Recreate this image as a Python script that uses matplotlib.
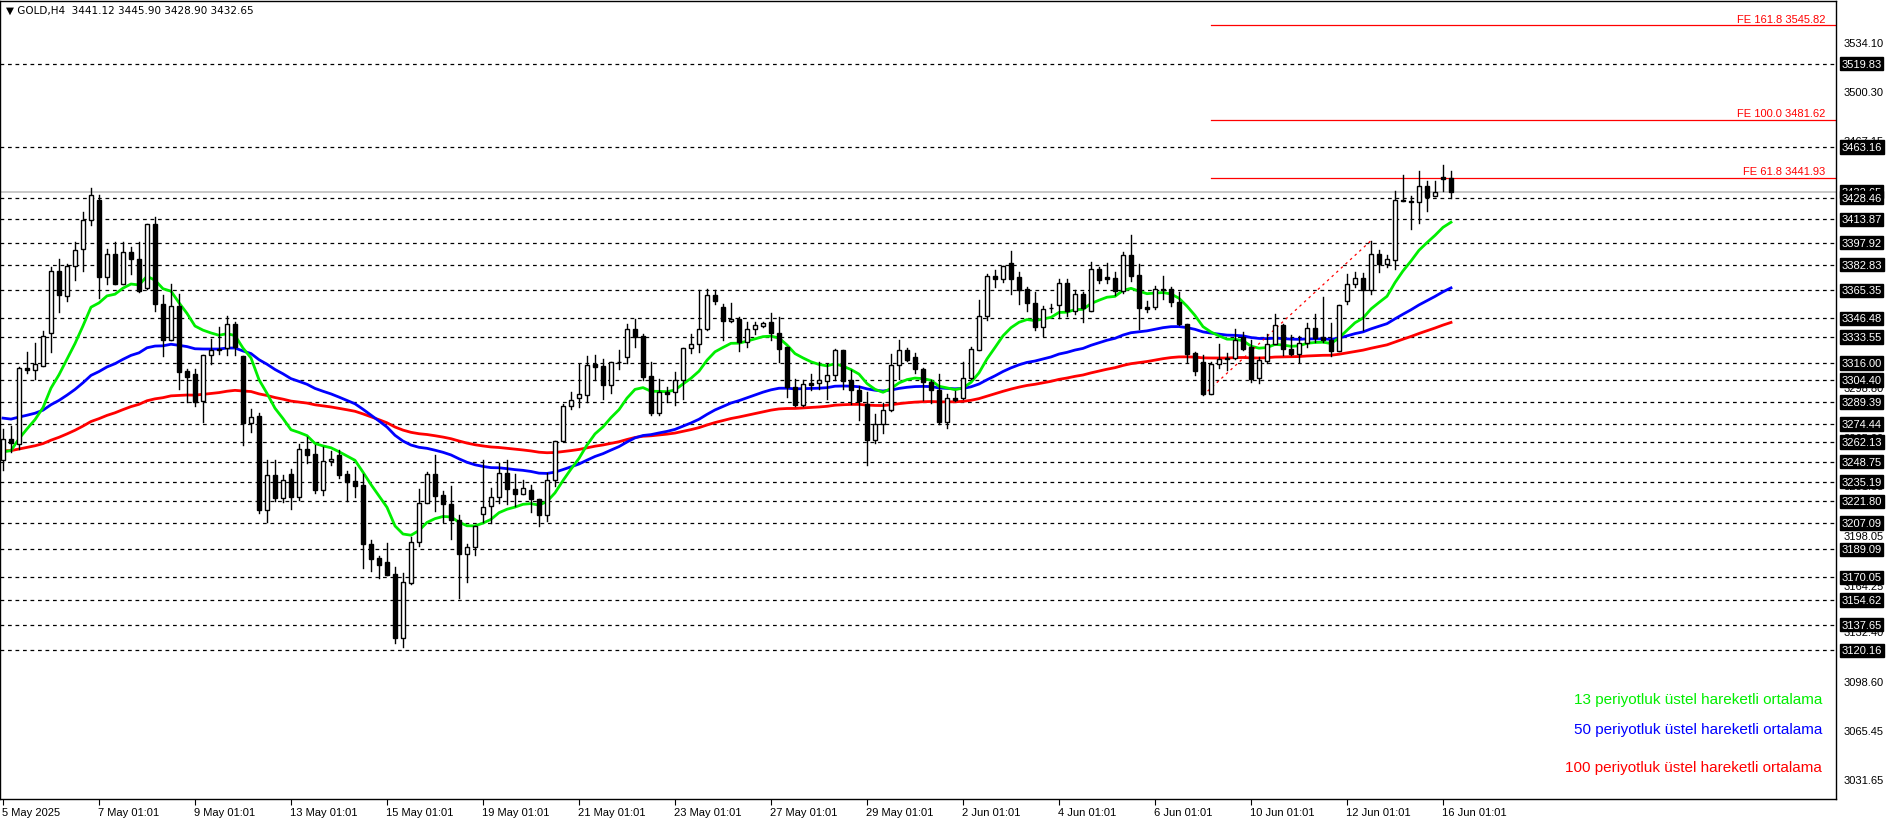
import numpy as np
import matplotlib
matplotlib.use("Agg")
import matplotlib.pyplot as plt
import matplotlib.transforms as mtransforms

# ---- OHLC data (GOLD, H4) ----
opens = [3250, 3264.4, 3261, 3312.7, 3311.3, 3314, 3336.3, 3378.9, 3361.4, 3382,
         3393.6, 3413.6, 3427, 3374.4, 3390.2, 3369.8, 3391.6, 3386.8, 3367.1, 3410.6,
         3356.2, 3331.7, 3354.9, 3310.2, 3308.6, 3289.8, 3321.5, 3325, 3326.3, 3342.6,
         3320.4, 3275.1, 3279.6, 3216.1, 3239.5, 3224.1, 3240.2, 3224.8, 3257.6, 3253.8,
         3229.7, 3249, 3253.1, 3240.2, 3235.6, 3232.7, 3193, 3182.8, 3180.1, 3172.2,
         3128.9, 3166.3, 3193.7, 3220.9, 3240.2, 3225.9, 3220.2, 3209.3, 3186.2, 3190.3,
         3213, 3218.4, 3224.8, 3241.3, 3230.4, 3227, 3229.7, 3223.2, 3212.7, 3236.5,
         3262.8, 3286.4, 3292.3, 3294.3, 3315, 3313.6, 3301.1, 3316.5, 3320, 3339.2,
         3334, 3307.3, 3281.9, 3296.2, 3296.2, 3304.5, 3326.3, 3329, 3338.8, 3362.6,
         3353.9, 3344.4, 3346.2, 3330.1, 3339.2, 3341.3, 3344.2, 3336.5, 3326.8, 3299.6,
         3287.1, 3302.3, 3302.5, 3303.6, 3308, 3324.5, 3304.1, 3297.7, 3287.8, 3263.3,
         3274.6, 3283.7, 3314.3, 3325, 3320, 3312, 3303, 3297.3, 3275.8, 3292.3,
         3292.3, 3305.9, 3324.5, 3348.3, 3375.5, 3373.2, 3384.1, 3374.4, 3366.4, 3356.9,
         3340.4, 3353.3, 3355.5, 3370.5, 3351.7, 3363, 3351.5, 3380, 3374.3, 3374.1,
         3365.3, 3389.5, 3376.2, 3353.9, 3353.9, 3366.4, 3366.4, 3357.8, 3342.6, 3322.7,
         3316.5, 3295, 3315, 3318.8, 3319.5, 3333.6, 3326.8, 3305.7, 3317, 3329,
         3341.5, 3325.6, 3322, 3329.5, 3339.9, 3333.6, 3331.3, 3324, 3358, 3369.8,
         3373.9, 3365.7, 3390.2, 3383.4, 3386.1, 3427, 3426.5, 3425.4, 3436.7, 3429.7,
         3442.8, 3441.9]
highs = [3271, 3272.8, 3313, 3323.3, 3329.5, 3338, 3381.6, 3386.8, 3383.4, 3398.2,
         3418.6, 3435.1, 3430.6, 3393.6, 3398.2, 3398.2, 3394.8, 3398.2, 3410.6, 3415.2,
         3362.6, 3369.8, 3363, 3312, 3312, 3321.5, 3332.4, 3340.3, 3348.3, 3343.8,
         3320.4, 3284.8, 3281.9, 3249.7, 3249.7, 3239.5, 3244, 3261, 3265.6, 3259.9,
         3258.7, 3256, 3256.5, 3242.4, 3245.2, 3240.2, 3195.3, 3184.4, 3193.5, 3177.2,
         3172.6, 3197.6, 3230, 3241.8, 3253.1, 3228.8, 3232, 3212.3, 3193, 3204.8,
         3249.7, 3231.1, 3248.1, 3249.7, 3240.6, 3236.5, 3232.7, 3223.2, 3241.1, 3262.8,
         3288.2, 3296.2, 3315, 3320.4, 3321.1, 3318.8, 3316.6, 3324.9, 3342.6, 3345.6,
         3335.8, 3316.6, 3305.2, 3299.5, 3309.7, 3326.3, 3335.4, 3365.7, 3366.4, 3365.7,
         3356.2, 3356.9, 3347.6, 3343.8, 3344.2, 3343.8, 3350.1, 3347.6, 3326.8, 3305.2,
         3304.1, 3308.6, 3316.6, 3315.4, 3325.6, 3325, 3311.3, 3300, 3296.2, 3281.4,
         3288.8, 3322.2, 3331.8, 3326.3, 3322.7, 3312.7, 3304.1, 3308.6, 3295, 3296.8,
         3316.6, 3326.8, 3358.9, 3376.6, 3379.3, 3382.3, 3392.5, 3378.2, 3368, 3364.1,
         3355.1, 3356.2, 3373, 3373, 3365.7, 3364.1, 3384.6, 3381.6, 3384.1, 3377.8,
         3391.8, 3403.4, 3383.4, 3358.5, 3368.7, 3375.5, 3368, 3364.1, 3342.6, 3323.4,
         3321.1, 3316.5, 3329, 3322.7, 3339.2, 3337, 3331.3, 3320, 3335.4, 3349.4,
         3342.6, 3334.7, 3334, 3343.1, 3349, 3361.2, 3343.1, 3355.5, 3376.6, 3378.2,
         3377.1, 3399.3, 3392.9, 3389.8, 3433.3, 3444.2, 3430, 3446.9, 3440.1, 3439.6,
         3451, 3446.4]
lows = [3243, 3255.3, 3257.6, 3309, 3305.2, 3314, 3323.3, 3350.5, 3358.5, 3372.8,
        3378.4, 3410, 3360.1, 3369.8, 3369.8, 3369.8, 3376.6, 3364.2, 3366.4, 3351.2,
        3320.4, 3331.3, 3298.2, 3289.4, 3286.4, 3275.7, 3315.4, 3322.2, 3321.1, 3321.1,
        3260, 3269, 3213.9, 3207.7, 3222, 3221.3, 3216.8, 3222.5, 3247.9, 3227.4,
        3225.9, 3246.3, 3237.9, 3222, 3224.8, 3176, 3174.4, 3169.2, 3171.5, 3125,
        3122.3, 3165.4, 3191.2, 3220.9, 3215.2, 3207.8, 3196.4, 3155.6, 3167, 3185.1,
        3207.8, 3207.1, 3220.7, 3220.2, 3218.4, 3226.6, 3214.6, 3204.8, 3208.4, 3232,
        3262.8, 3284.8, 3286, 3289.3, 3304.5, 3291.2, 3295.5, 3312, 3315.9, 3326.8,
        3304.5, 3280.3, 3280.3, 3289.3, 3287.1, 3291.6, 3322.7, 3323.4, 3338.1, 3356.2,
        3331.7, 3343.8, 3324, 3326.8, 3335.8, 3340.4, 3331.3, 3316.6, 3292.8, 3286.4,
        3286.4, 3297.3, 3298.4, 3291.6, 3304.1, 3298.4, 3288.2, 3276.9, 3246.3, 3261.5,
        3268.3, 3283.2, 3305.2, 3317.2, 3309.1, 3290.5, 3288.7, 3274.6, 3271.9, 3290,
        3291.6, 3305.2, 3324.5, 3344.9, 3367.6, 3370.9, 3363, 3356.2, 3351.7, 3338.1,
        3334, 3350.6, 3346.7, 3348.3, 3349.4, 3343.8, 3351.5, 3370.3, 3370.3, 3362.6,
        3363.9, 3372.1, 3339.2, 3350.6, 3352.8, 3359.6, 3355.1, 3341.5, 3316.5, 3307.5,
        3293.9, 3294.6, 3312.7, 3310.9, 3318.8, 3324.5, 3303, 3302.3, 3315.9, 3328.6,
        3321.1, 3321.1, 3316.5, 3326.8, 3330.2, 3330.2, 3320.4, 3324, 3356.2, 3367.5,
        3338.1, 3363, 3377.8, 3381.6, 3380, 3426, 3407.2, 3411.1, 3419.2, 3429.7,
        3432.8, 3428.3]
closes = [3264, 3261.5, 3312.7, 3311.3, 3315.4, 3334.5, 3378.9, 3362.3, 3382, 3393.2,
          3413.6, 3430.3, 3374.4, 3390.2, 3369.8, 3391.6, 3386.6, 3365.3, 3410.6, 3356.2,
          3331.7, 3354.9, 3309.7, 3306.3, 3289.4, 3321.5, 3325, 3325.3, 3342.6, 3326.8,
          3275, 3279.1, 3215.7, 3239.5, 3224.1, 3236.1, 3224.8, 3257.6, 3253.5, 3229.3,
          3249.2, 3250.8, 3239.5, 3235, 3232, 3193, 3182.6, 3178.5, 3171.5, 3128.9,
          3166.5, 3193.7, 3220.9, 3240.6, 3225.4, 3220.2, 3209.3, 3186.2, 3190.3, 3204.8,
          3218, 3224.8, 3241.3, 3230.4, 3226.6, 3231.1, 3223.2, 3212.7, 3236.5, 3262.8,
          3286.4, 3290.5, 3294.6, 3314.7, 3313.2, 3301.1, 3316.6, 3316.7, 3339.2, 3333.6,
          3306.4, 3281.9, 3296.2, 3295, 3304.5, 3326.3, 3329, 3339.2, 3362.6, 3358,
          3344.4, 3346.2, 3330.1, 3339.2, 3341.5, 3343.1, 3336.3, 3325.4, 3299.6, 3287.1,
          3301.8, 3301.1, 3304.1, 3308, 3324.5, 3303.6, 3297.7, 3289.8, 3263.3, 3274.6,
          3283.7, 3314.3, 3325, 3318.2, 3312, 3303, 3297.3, 3275.8, 3292.3, 3290.5,
          3305.9, 3325.6, 3348.3, 3375.5, 3373.2, 3382.3, 3373.2, 3365.7, 3356.7, 3340.4,
          3352.8, 3353.6, 3370.5, 3351.7, 3363, 3353.3, 3380, 3372.5, 3373, 3364.8,
          3389.5, 3375.5, 3353.5, 3352.6, 3366.4, 3365.8, 3357.3, 3342.6, 3322.2, 3310.4,
          3295, 3315, 3318.8, 3318.8, 3331.3, 3325.6, 3305.2, 3317.7, 3329, 3341.5,
          3325.6, 3322.2, 3329.5, 3339.9, 3333.1, 3331.3, 3324, 3355.5, 3369.8, 3373.9,
          3365.7, 3390.2, 3383.4, 3386.8, 3426.9, 3426.2, 3425.8, 3436.7, 3429.2, 3432.4,
          3441.2, 3432.65]

# EMA values just before the first visible bar
ema_seed = {13: 3254.0, 50: 3279.0, 100: 3256.0}
ema_colors = {13: "#00ee00", 50: "#0000ff", 100: "#ff0000"}

hlines = [3519.83, 3463.16, 3428.46, 3413.87, 3397.92, 3382.83, 3365.35, 3346.48,
          3333.55, 3316.00, 3304.40, 3289.39, 3274.44, 3262.13, 3248.75, 3235.19,
          3221.80, 3207.09, 3189.09, 3170.05, 3154.62, 3137.65, 3120.16]
axis_ticks = [3534.10, 3500.30, 3467.15, 3433.35, 3399.55, 3365.75, 3332.60, 3298.80,
              3265.00, 3231.85, 3198.05, 3164.25, 3132.40, 3098.60, 3065.45, 3031.65]
fe_levels = [("FE 61.8", 3441.93), ("FE 100.0", 3481.62), ("FE 161.8", 3545.82)]
fe_start = 150            # bar of the swing low
fe_swing_high = 171       # bar of the swing high
bid = 3432.65
date_labels = ["5 May 2025", "7 May 01:01", "9 May 01:01", "13 May 01:01", "15 May 01:01",
               "19 May 01:01", "21 May 01:01", "23 May 01:01", "27 May 01:01", "29 May 01:01",
               "2 Jun 01:01", "4 Jun 01:01", "6 Jun 01:01", "10 Jun 01:01", "12 Jun 01:01",
               "16 Jun 01:01"]
legend_texts = ["13 periyotluk üstel hareketli ortalama",
                "50 periyotluk üstel hareketli ortalama",
                "100 periyotluk üstel hareketli ortalama"]

plt.rcParams["font.family"] = "Liberation Sans"
W, H = 1896, 820
fig = plt.figure(figsize=(W / 100, H / 100), dpi=100)
ax = fig.add_axes([0, 20 / H, 1836 / W, 1 - 22 / H])
n = len(closes)
x = np.arange(n)
ax.set_xlim(-0.375, (1836 - 3) / 8.0)
ax.set_ylim(3019.0, 3562.5)

# dashed horizontal levels
for lv in hlines:
    ax.axhline(lv, color="black", lw=0.9, ls=(0, (3, 3)), zorder=1)
ax.axhline(bid, color="#c0c0c0", lw=1.2, zorder=1)

# EMAs
for p in (100, 50, 13):
    k = 2.0 / (p + 1)
    e = ema_seed[p]
    vals = []
    for c in closes:
        e = e + k * (c - e)
        vals.append(e)
    ax.plot(x, vals, color=ema_colors[p], lw=2, zorder=2)

# candles
for i in range(n):
    o, h, l, c = opens[i], highs[i], lows[i], closes[i]
    ax.plot([i, i], [l, h], color="black", lw=1, zorder=3)
    bottom, top = min(o, c), max(o, c)
    face = "white" if c >= o else "black"
    ax.bar(i, max(top - bottom, 0.4), 0.62, bottom=bottom, color=face,
           edgecolor="black", lw=1, zorder=4)

# fibo expansion
ax.plot([fe_start, fe_swing_high], [lows[fe_start], highs[fe_swing_high]],
        color="red", lw=0.9, ls=(0, (2, 3)), zorder=2)
for name, lv in fe_levels:
    ax.plot([fe_start + 1, ax.get_xlim()[1]], [lv, lv], color="red", lw=0.9, zorder=2)
    ax.text(227.8, lv + 1.2, f"{name} {lv:.2f}", color="red", fontsize=8,
            ha="right", va="bottom")

# right price scale
trans = mtransforms.blended_transform_factory(ax.transAxes, ax.transData)
ax.set_yticks([])
for t in axis_ticks:
    ax.text(1.004, t, f"{t:.2f}", transform=trans, fontsize=8, va="center",
            ha="left", color="black", clip_on=False)
ax.text(1.003, bid, f"{bid:.2f}", transform=trans, fontsize=8, va="center", ha="left",
        color="white", clip_on=False,
        bbox=dict(boxstyle="square,pad=0.15", fc="black", ec="black"))
for lv in hlines:
    ax.text(1.003, lv, f"{lv:.2f}", transform=trans, fontsize=8, va="center", ha="left",
            color="white", clip_on=False,
            bbox=dict(boxstyle="square,pad=0.15", fc="black", ec="black"))

# time axis
ax.set_xticks(np.arange(len(date_labels)) * 12)
ax.set_xticklabels(date_labels, fontsize=8, ha="left")
ax.tick_params(axis="x", direction="out", length=4, pad=2)
for lab in ax.get_xticklabels():
    lab.set_transform(lab.get_transform() + mtransforms.ScaledTranslation(-1 / 100, 0, fig.dpi_scale_trans))

for s in ax.spines.values():
    s.set_color("black")
    s.set_linewidth(1)

# title and legend
ax.text(0.003, 0.995, "▼ GOLD,H4  3441.12 3445.90 3428.90 3432.65", transform=ax.transAxes,
        fontsize=7.5, va="top", ha="left", family="DejaVu Sans")
for txt, col, yy in zip(legend_texts, ("#00ee00", "#0000ff", "#ff0000"),
                        (0.125, 0.088, 0.04)):
    ax.text(0.9925, yy, txt, transform=ax.transAxes, color=col, fontsize=11,
            ha="right", va="center")

fig.savefig("out.png", dpi=100)
